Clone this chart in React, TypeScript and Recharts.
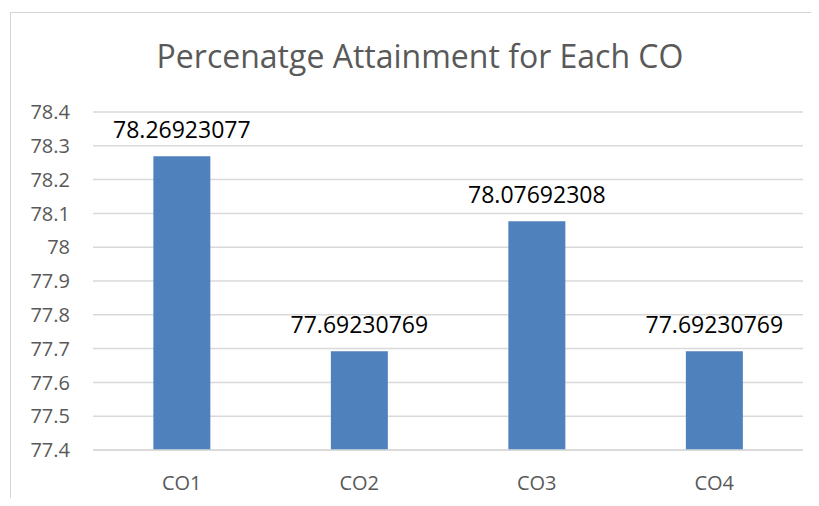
import React from "react";
import { BarChart, Bar, XAxis, YAxis, CartesianGrid, LabelList } from "recharts";

const categories = ["CO1", "CO2", "CO3", "CO4"];
const attainment = [78.26923077, 77.69230769, 78.07692308, 77.69230769];
const yTicks = [77.4, 77.5, 77.6, 77.7, 77.8, 77.9, 78, 78.1, 78.2, 78.3, 78.4];

const data = categories.map((name, i) => ({ name, value: attainment[i] }));

const FONT = "'Open Sans', 'Liberation Sans', sans-serif";
const GREY = "#595959";

export default function App() {
  return (
    <div style={{ position: "relative", width: 819, height: 506, margin: -8, background: "#fff", fontFamily: FONT, overflow: "hidden" }}>
      <div
        style={{
          position: "absolute",
          left: 10,
          top: 12,
          width: 830,
          height: 520,
          border: "1px solid #d4d4d4",
        }}
      />
      <div
        style={{
          position: "absolute",
          top: 34,
          left: 0,
          width: 840,
          textAlign: "center",
          fontSize: 32,
          color: GREY,
          lineHeight: "44px",
        }}
      >
        Percenatge Attainment for Each CO
      </div>
      <div style={{ position: "absolute", left: 0, top: 0 }}>
        <BarChart
          width={819}
          height={506}
          data={data}
          margin={{ top: 112, right: 16, bottom: 0, left: 0 }}
          barCategoryGap="34%"
        >
          <CartesianGrid vertical={false} stroke="#d9d9d9" strokeWidth={1.5} />
          <XAxis
            dataKey="name"
            height={56}
            axisLine={{ stroke: "#d9d9d9", strokeWidth: 1.5 }}
            tickLine={false}
            tickMargin={20}
            tick={{ fill: GREY, fontSize: 20, fontFamily: FONT }}
          />
          <YAxis
            type="number"
            domain={[77.4, 78.4]}
            ticks={yTicks}
            width={93}
            axisLine={false}
            tickLine={false}
            tickMargin={17}
            allowDataOverflow
            tick={{ fill: GREY, fontSize: 20, fontFamily: FONT }}
          />
          <Bar dataKey="value" fill="#4f81bd" isAnimationActive={false}>
            <LabelList
              dataKey="value"
              position="top"
              offset={18}
              fill="#000"
              fontSize={23}
              fontFamily={FONT}
            />
          </Bar>
        </BarChart>
      </div>
    </div>
  );
}
